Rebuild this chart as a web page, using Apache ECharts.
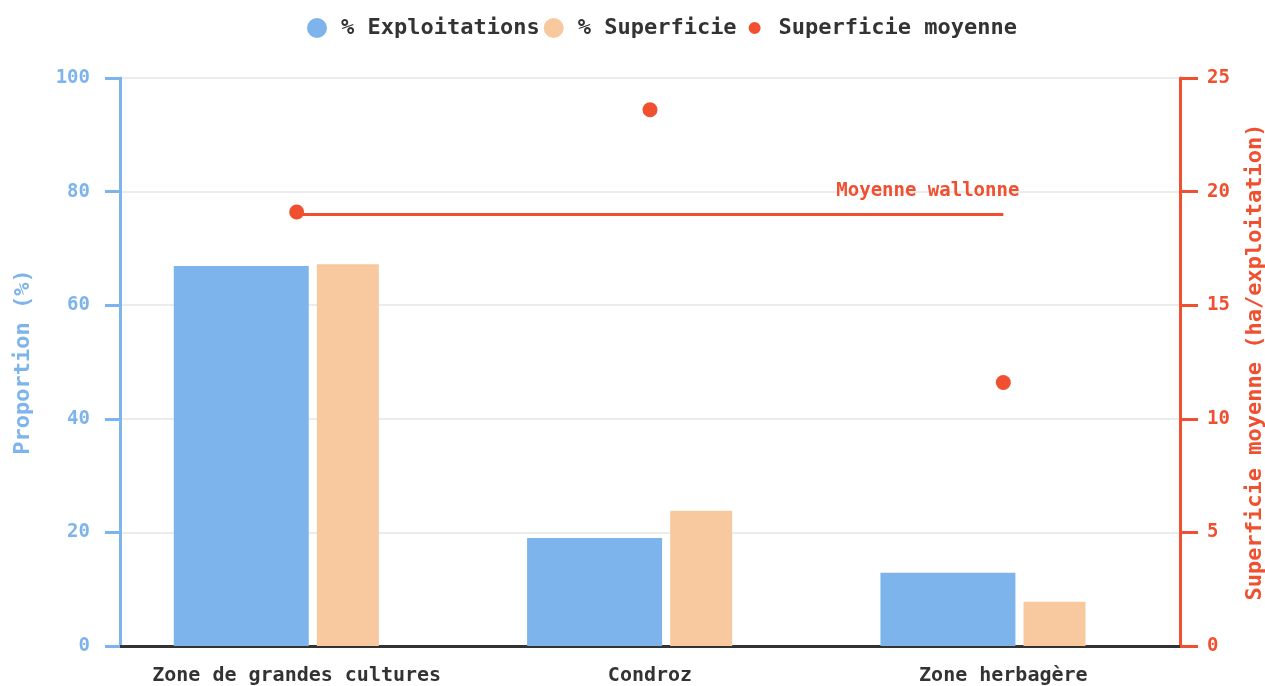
<!DOCTYPE html>
<html>
<head>
<meta charset="utf-8">
<script src="https://cdn.jsdelivr.net/npm/echarts@6/dist/echarts.min.js"></script>
<style>
  html, body { margin: 0; padding: 0; background: #fff; }
  #chart { width: 1265px; height: 686px; }
</style>
</head>
<body>
<div id="chart"></div>
<script>
const zones = ['Zone de grandes cultures', 'Condroz', 'Zone herbagère']
const pctExploitations = [66.9, 19.0, 12.9]
const pctSuperficie = [67.2, 23.8, 7.8]
const superficieMoyenne = [19.1, 23.6, 11.6]
const moyenneWallonne = 19.0

const blue = '#7db4eb'
const orange = '#f8c99e'
const red = '#f05030'
const dark = '#333333'
const font = '"DejaVu Sans Mono", monospace'

const chart = echarts.init(document.getElementById('chart'))

const option = {
  animation: false,
  textStyle: { fontFamily: font },
  legend: {
    top: 9,
    left: 302,
    itemWidth: 20,
    itemHeight: 20,
    itemGap: 4,
    icon: 'circle',
    textStyle: { fontFamily: font, fontSize: 22, fontWeight: 'bold', color: dark, padding: [0, 0, 0, 9] },
    data: [
      { name: '% Exploitations' },
      { name: '% Superficie' },
      { name: 'Superficie moyenne', itemStyle: { borderColor: '#fff', borderWidth: 8 } }
    ]
  },
  grid: { left: 120, right: 85, top: 78, bottom: 40, outerBoundsMode: 'none', containLabel: false },
  xAxis: {
    type: 'category',
    data: zones,
    axisLine: { lineStyle: { color: dark, width: 3 } },
    axisTick: { length: 18, lineStyle: { color: dark, width: 3 } },
    axisLabel: { interval: 0, margin: 20, fontFamily: font, fontSize: 20, fontWeight: 'bold', color: dark }
  },
  yAxis: [
    {
      type: 'value',
      min: 0,
      max: 100,
      interval: 20,
      name: 'Proportion (%)',
      nameLocation: 'middle',
      nameGap: 86,
      nameTextStyle: { fontFamily: font, fontSize: 22, fontWeight: 'bold', color: blue },
      axisLine: { show: true, lineStyle: { color: blue, width: 3 } },
      axisTick: { show: true, length: 15, lineStyle: { color: blue, width: 3 } },
      axisLabel: { margin: 30, fontFamily: font, fontSize: 19, fontWeight: 'bold', color: blue },
      splitLine: { lineStyle: { color: '#e6e6e6', width: 1.5 } }
    },
    {
      type: 'value',
      min: 0,
      max: 25,
      interval: 5,
      position: 'right',
      name: 'Superficie moyenne (ha/exploitation)',
      nameLocation: 'middle',
      nameGap: 64,
      nameTextStyle: { fontFamily: font, fontSize: 22, fontWeight: 'bold', color: red },
      axisLine: { show: true, lineStyle: { color: red, width: 3 } },
      axisTick: { show: true, length: 18, lineStyle: { color: red, width: 3 } },
      axisLabel: { margin: 27, fontFamily: font, fontSize: 19, fontWeight: 'bold', color: red },
      splitLine: { show: false }
    }
  ],
  series: [
    {
      name: '% Exploitations',
      type: 'bar',
      data: pctExploitations,
      barWidth: 135,
      barGap: '6%',
      itemStyle: { color: blue }
    },
    {
      name: '% Superficie',
      type: 'bar',
      data: pctSuperficie,
      barWidth: 62,
      itemStyle: { color: orange }
    },
    {
      // empty slot, keeps the bar pair left of the category centre
      name: 'spacer',
      type: 'bar',
      data: [],
      barWidth: 37,
      silent: true
    },
    {
      name: 'Superficie moyenne',
      type: 'scatter',
      yAxisIndex: 1,
      data: superficieMoyenne,
      symbolSize: 15,
      itemStyle: { color: red, opacity: 1 },
      markLine: {
        silent: true,
        symbol: 'none',
        lineStyle: { color: red, width: 3, type: 'solid' },
        label: {
          position: 'insideEndTop',
          distance: [-16, 14],
          formatter: 'Moyenne wallonne',
          fontFamily: font,
          fontSize: 19,
          fontWeight: 'bold',
          color: red
        },
        data: [[{ coord: [0, moyenneWallonne] }, { coord: [2, moyenneWallonne] }]]
      }
    }
  ]
}

chart.setOption(option)
window.addEventListener('resize', () => chart.resize())
</script>
</body>
</html>
